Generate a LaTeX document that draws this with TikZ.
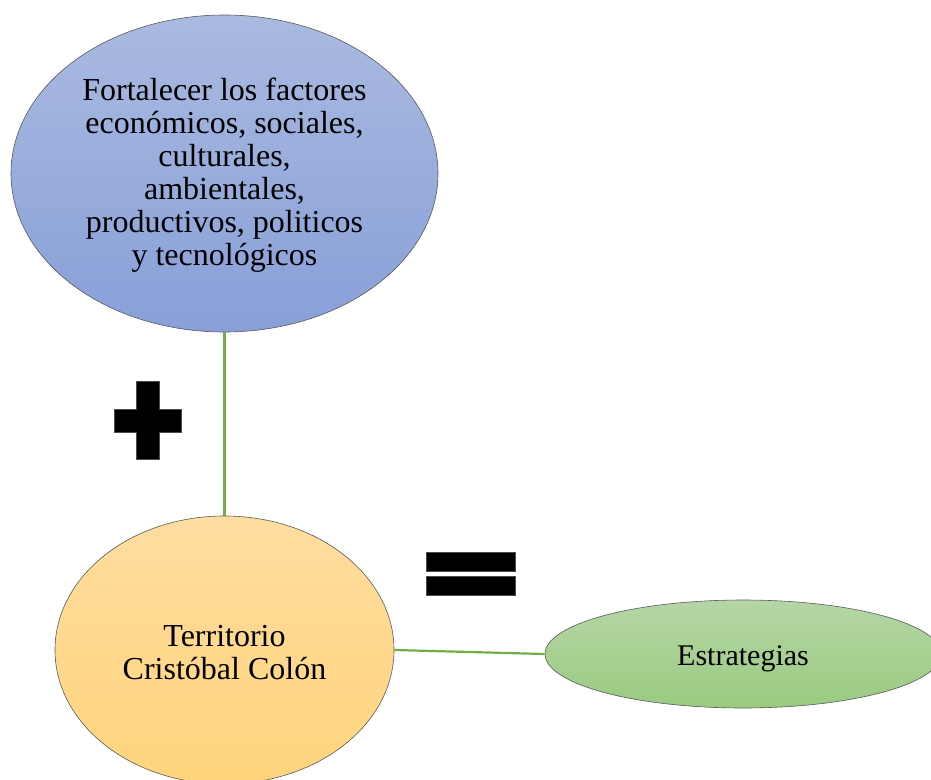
\documentclass[tikz,border=0pt]{standalone}
\usepackage{fontspec}
\setmainfont{Liberation Serif}
\usetikzlibrary{shapes.geometric}
\definecolor{blueT}{HTML}{AABAE0}
\definecolor{blueB}{HTML}{889FD8}
\definecolor{yelT}{HTML}{FFDDA0}
\definecolor{yelB}{HTML}{FFD47C}
\definecolor{grnT}{HTML}{B5D6A5}
\definecolor{grnB}{HTML}{9ACA80}
\definecolor{linkG}{HTML}{70AD47}
\tikzset{
  bubble/.style={ellipse, draw=black!65, line width=0.6pt, inner sep=0pt, align=center,
     font=\fontsize{32}{33}\selectfont},
  link/.style={draw=linkG, line width=2.2pt},
  sign/.style={fill=black, draw=black!70, line width=0.5pt}
}
\begin{document}
\begin{tikzpicture}[x=1pt,y=-1pt]
\useasboundingbox (0,0) rectangle (931,779);
\node[bubble, top color=blueT, bottom color=blueB, minimum width=427pt, minimum height=317pt]
  (fact) at (224.5,173.5) {\rule{0pt}{25pt}Fortalecer los factores\\econ\'omicos, sociales,\\culturales,\\ambientales,\\productivos, politicos\\y tecnol\'ogicos};
\node[bubble, top color=yelT, bottom color=yelB, minimum width=339pt, minimum height=268pt]
  (terr) at (224.5,650) {\rule{0pt}{26pt}Territorio\\Crist\'obal Col\'on};
\node[bubble, top color=grnT, bottom color=grnB, minimum width=396pt, minimum height=108pt,
  font=\fontsize{30}{32}\selectfont, text height=28pt, text depth=6pt]
  (estr) at (743,654) {Estrategias};
\draw[link] (fact.south) -- (terr.north);
\draw[link] (terr.east) -- (estr.west);
% plus sign
\path[sign] (136,381.7) -- (159.3,381.7) -- (159.3,409.3) -- (181,409.3) -- (181,432.3)
  -- (159.3,432.3) -- (159.3,459.3) -- (136,459.3) -- (136,432.3) -- (114,432.3)
  -- (114,409.3) -- (136,409.3) -- cycle;
% equals sign
\path[sign] (426,552.3) rectangle (515.3,571);
\path[sign] (426,576.7) rectangle (515.3,595.7);
\end{tikzpicture}
\end{document}
